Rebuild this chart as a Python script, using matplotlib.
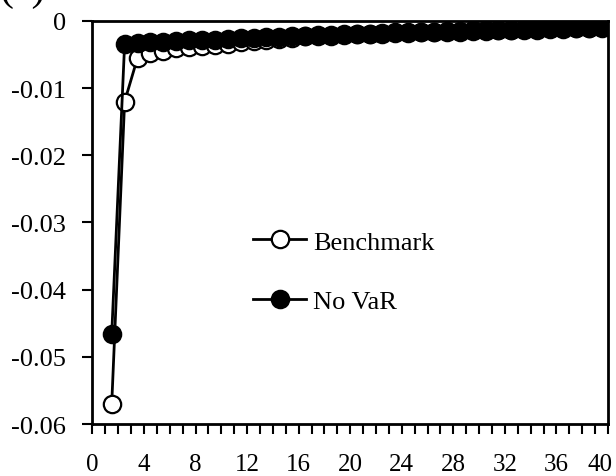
import numpy as np
import matplotlib
matplotlib.use("Agg")
import matplotlib.pyplot as plt
from matplotlib.ticker import MultipleLocator, FuncFormatter

plt.rcParams['font.family'] = ['Liberation Serif', 'DejaVu Serif']
plt.rcParams['axes.unicode_minus'] = False

# horizon (points sit midway between integer ticks)
periods = np.arange(1.5, 40, 1.0)

benchmark = [-0.0570, -0.0120, -0.0055, -0.0048, -0.0044, -0.0041, -0.0039, -0.0037,
             -0.0036, -0.0034, -0.0032, -0.0030, -0.0028, -0.0027, -0.0025, -0.0023,
             -0.0022, -0.0022, -0.0021, -0.0020, -0.0020, -0.0019, -0.0018, -0.0018,
             -0.0017, -0.0017, -0.0016, -0.0016, -0.0015, -0.0015, -0.0014, -0.0014,
             -0.0013, -0.0013, -0.0012, -0.0012, -0.0011, -0.0011, -0.0010]

no_var = [-0.0466, -0.0034, -0.0033, -0.0032, -0.0031, -0.0030, -0.0029, -0.0028,
          -0.0028, -0.0027, -0.0026, -0.0025, -0.0024, -0.0024, -0.0023, -0.0022,
          -0.0021, -0.0021, -0.0020, -0.0019, -0.0019, -0.0018, -0.0017, -0.0017,
          -0.0016, -0.0016, -0.0015, -0.0015, -0.0014, -0.0014, -0.0013, -0.0013,
          -0.0012, -0.0012, -0.0011, -0.0011, -0.0010, -0.0010, -0.0009]

x_max = 40

fig = plt.figure(figsize=(6.16, 4.77), dpi=100)
ax = fig.add_axes([0.150, 0.109, 0.837, 0.845])

ax.plot(periods, benchmark, color='black', lw=2, marker='o', ms=12.5,
        mfc='white', mec='black', mew=1.6, label='Benchmark', zorder=3)
ax.plot(periods, no_var, color='black', lw=2, marker='o', ms=12.5,
        mfc='black', mec='black', mew=1.6, label='No VaR', zorder=4)

ax.set_xlim(0, x_max)
ax.set_ylim(-0.06, 0)

ax.xaxis.set_major_locator(MultipleLocator(4))
ax.xaxis.set_minor_locator(MultipleLocator(1))
# last x label is drawn separately, nudged in from the edge
ax.xaxis.set_major_formatter(FuncFormatter(lambda v, p: '' if v >= x_max else f'{v:.0f}'))
ax.yaxis.set_major_locator(MultipleLocator(0.01))
ax.yaxis.set_major_formatter(FuncFormatter(lambda v, p: '0' if abs(v) < 1e-9 else f'{v:.2f}'))

ax.tick_params(axis='x', which='both', direction='out', length=7, width=1.5,
               labelsize=18, pad=14)
ax.tick_params(axis='y', which='both', direction='out', length=7, width=1.5,
               labelsize=19, pad=12)
for s in ax.spines.values():
    s.set_linewidth(2)

ax.annotate(f'{x_max}', xy=(x_max, 0), xycoords=ax.get_xaxis_transform(),
            xytext=(-6, -21), textcoords='offset points',
            ha='center', va='top', fontsize=18, annotation_clip=False)

leg = ax.legend(loc='upper left', bbox_to_anchor=(0.312, 0.481), frameon=False,
                fontsize=19, handlelength=2.0, handletextpad=0.27,
                labelspacing=1.37, borderpad=0, borderaxespad=0)

# panel label, mostly above the top edge
fig.text(-0.002, 1.0, '(a)', fontsize=30, ha='left', va='baseline')

fig.savefig('out.png', dpi=100)
